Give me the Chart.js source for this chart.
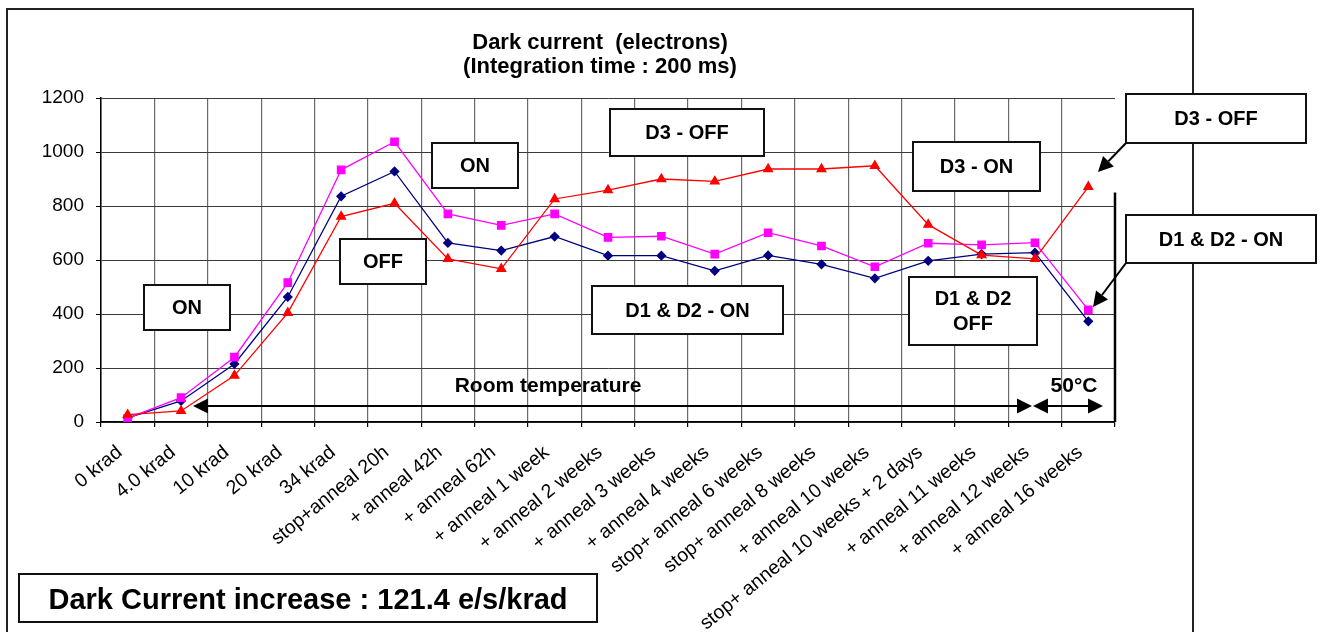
<!DOCTYPE html>
<html>
<head>
<meta charset="utf-8">
<script src="https://cdn.jsdelivr.net/npm/chart.js@4.4.0/dist/chart.umd.min.js"></script>
<style>
  html, body { margin: 0; padding: 0; background: #fff; }
  #wrap { width: 1327px; height: 632px; position: relative; overflow: hidden; }
</style>
</head>
<body>
<div id="wrap"><canvas id="c" width="1327" height="632"></canvas></div>
<script>
// Irradiation / annealing steps along the horizontal axis
const categories = [
  '0 krad', '4.0 krad', '10 krad', '20 krad', '34 krad',
  'stop+anneal 20h', '+ anneal 42h', '+ anneal 62h', '+ anneal 1 week',
  '+ anneal 2 weeks', '+ anneal 3 weeks', '+ anneal 4 weeks',
  'stop+ anneal 6 weeks', 'stop+ anneal 8 weeks', '+ anneal 10 weeks',
  'stop+ anneal 10 weeks + 2 days', '+ anneal 11 weeks',
  '+ anneal 12 weeks', '+ anneal 16 weeks'
];

// Dark current per detector (electrons)
const darkNavy    = [15, 78, 215, 463, 836, 928, 663, 635, 687, 616, 616, 560, 617, 584, 532, 597, 622, 627, 373];
const darkMagenta = [14, 90, 240, 516, 934, 1038, 771, 728, 771, 684, 688, 622, 701, 652, 575, 662, 656, 664, 415];
const darkRed     = [27, 41, 172, 404, 761, 810, 604, 567, 826, 859, 900, 891, 937, 937, 949, 731, 618, 604, 871];

// Value axis
const yMin = 0, yMax = 1200, yStep = 200;

const FONT = '"Liberation Sans", Arial, sans-serif';

// Labelled boxes drawn over the plot: [left, top, width, height, lines]
const boxes = [
  [144, 285, 86, 45, ['ON']],
  [340, 239, 86, 45, ['OFF']],
  [432, 143, 86, 45, ['ON']],
  [610, 109, 154, 47, ['D3 - OFF']],
  [592, 286, 191, 48, ['D1 & D2 - ON']],
  [913, 142, 127, 49, ['D3 - ON']],
  [909, 277, 128, 68, ['D1 & D2', 'OFF']],
  [1126, 94, 180, 49, ['D3 - OFF']],
  [1126, 215, 190, 48, ['D1 & D2 - ON']]
];

function arrowHead(ctx, tx, ty, fx, fy, len, half) {
  const a = Math.atan2(ty - fy, tx - fx);
  const bx = tx - Math.cos(a) * len, by = ty - Math.sin(a) * len;
  ctx.beginPath();
  ctx.moveTo(tx, ty);
  ctx.lineTo(bx + Math.sin(a) * half, by - Math.cos(a) * half);
  ctx.lineTo(bx - Math.sin(a) * half, by + Math.cos(a) * half);
  ctx.closePath();
  ctx.fill();
  return [bx, by];
}

function arrow(ctx, x1, y1, x2, y2, both) {
  let s = [x1, y1];
  if (both) s = arrowHead(ctx, x1, y1, x2, y2, 15, 7.5);
  const e = arrowHead(ctx, x2, y2, x1, y1, 15, 7.5);
  ctx.beginPath();
  ctx.moveTo(s[0], s[1]);
  ctx.lineTo(e[0], e[1]);
  ctx.stroke();
}

const decorations = {
  id: 'decorations',
  beforeDraw(chart) {
    const ctx = chart.ctx;
    ctx.save();
    ctx.fillStyle = '#fff';
    ctx.fillRect(0, 0, chart.width, chart.height);
    ctx.strokeStyle = '#222';
    ctx.lineWidth = 2;
    ctx.strokeRect(7, 9, 1186, 700);
    ctx.restore();
  },
  afterDraw(chart) {
    const ctx = chart.ctx;
    const area = chart.chartArea;
    const ys = chart.scales.y;
    ctx.save();

    // Title
    ctx.fillStyle = '#000';
    ctx.textAlign = 'center';
    ctx.textBaseline = 'middle';
    ctx.font = 'bold 22px ' + FONT;
    ctx.fillText('Dark current  (electrons)', 600, 43);
    ctx.fillText('(Integration time : 200 ms)', 600, 67);

    // Separator on the right edge of the plot
    ctx.strokeStyle = '#000';
    ctx.lineWidth = 2.5;
    ctx.beginPath();
    ctx.moveTo(area.right, ys.getPixelForValue(850));
    ctx.lineTo(area.right, area.bottom);
    ctx.stroke();

    // Temperature ranges
    ctx.fillStyle = '#000';
    ctx.lineWidth = 2;
    arrow(ctx, 193, 406, 1032, 406, true);
    arrow(ctx, 1033, 406, 1103, 406, true);
    ctx.font = 'bold 21px ' + FONT;
    ctx.fillText('Room temperature', 548, 386);
    ctx.fillText('50°C', 1074, 386);

    // Boxes
    ctx.font = 'bold 20px ' + FONT;
    boxes.forEach(([l, t, w, h, lines]) => {
      ctx.fillStyle = '#fff';
      ctx.fillRect(l, t, w, h);
      ctx.strokeStyle = '#111';
      ctx.lineWidth = 2;
      ctx.strokeRect(l, t, w, h);
      ctx.fillStyle = '#000';
      const lh = 25;
      const y0 = t + h / 2 - (lines.length - 1) * lh / 2;
      lines.forEach((s, i) => ctx.fillText(s, l + w / 2, y0 + i * lh + 1));
    });

    // Pointers from the right-hand boxes
    ctx.strokeStyle = '#000';
    ctx.fillStyle = '#000';
    ctx.lineWidth = 2;
    arrow(ctx, 1126, 143, 1098, 172, false);
    arrow(ctx, 1126, 263, 1093, 307, false);

    // Summary box
    ctx.fillStyle = '#fff';
    ctx.fillRect(19, 574, 578, 48);
    ctx.strokeStyle = '#111';
    ctx.lineWidth = 2;
    ctx.strokeRect(19, 574, 578, 48);
    ctx.fillStyle = '#000';
    ctx.font = 'bold 29px ' + FONT;
    ctx.fillText('Dark Current increase : 121.4 e/s/krad', 308, 601);

    ctx.restore();
  }
};

new Chart(document.getElementById('c'), {
  type: 'line',
  data: {
    labels: categories,
    datasets: [
      {
        data: darkNavy, borderColor: '#000080', backgroundColor: '#000080',
        borderWidth: 1.3, pointStyle: 'rectRot', pointRadius: 4.2, order: 3
      },
      {
        data: darkMagenta, borderColor: '#FF00FF', backgroundColor: '#FF00FF',
        borderWidth: 1.3, pointStyle: 'rect', pointRadius: 5.2, order: 2
      },
      {
        data: darkRed, borderColor: '#FF0000', backgroundColor: '#FF0000',
        borderWidth: 1.3, pointStyle: 'triangle', pointRadius: 5, order: 1
      }
    ]
  },
  options: {
    responsive: false,
    animation: false,
    devicePixelRatio: 1,
    layout: { padding: { left: 0, right: 212, top: 98, bottom: 0 } },
    elements: { line: { tension: 0 }, point: { borderWidth: 1 } },
    plugins: { legend: { display: false }, tooltip: { enabled: false }, title: { display: false } },
    scales: {
      x: {
        type: 'category',
        offset: true,
        afterFit(s) { s.height = 210; },
        grid: {
          offset: true,
          color: c => (c.index === undefined ? 'rgba(0,0,0,0)' : '#6a6a6a'),
          lineWidth: 1.2,
          tickLength: 5,
          tickColor: '#000'
        },
        border: { color: '#000', width: 1.5 },
        ticks: {
          autoSkip: false,
          maxRotation: 39,
          minRotation: 39,
          padding: 14,
          labelOffset: -8,
          color: '#000',
          font: { family: FONT, size: 19.5 }
        }
      },
      y: {
        min: yMin,
        max: yMax,
        afterFit(s) { s.width = 101; },
        grid: { color: '#3a3a3a', lineWidth: 1, tickLength: 5, tickColor: '#000' },
        border: { color: '#000', width: 1.5 },
        ticks: {
          stepSize: yStep,
          padding: 12,
          color: '#000',
          font: { family: FONT, size: 19 },
          callback: v => String(v)
        }
      }
    }
  },
  plugins: [decorations]
});
</script>
</body>
</html>
